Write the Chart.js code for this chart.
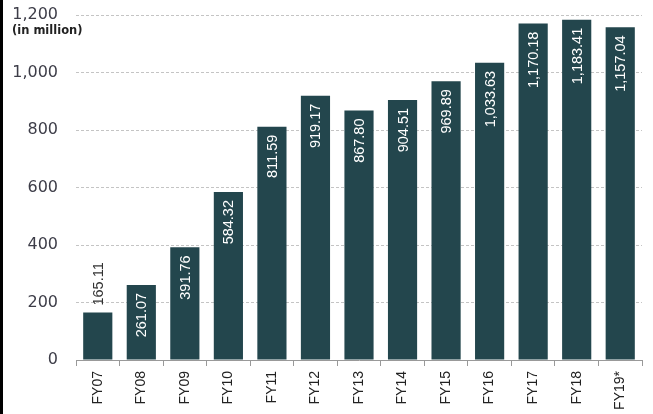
<!DOCTYPE html>
<html>
<head>
<meta charset="utf-8">
<script src="https://cdn.jsdelivr.net/npm/chart.js@4"></script>
<style>
html,body{margin:0;padding:0;background:#fff;}
#wrap{width:653px;height:414px;position:relative;}
</style>
</head>
<body>
<div id="wrap"><canvas id="c" width="653" height="414"></canvas></div>
<script>
const categories = ["FY07","FY08","FY09","FY10","FY11","FY12","FY13","FY14","FY15","FY16","FY17","FY18","FY19*"];
const revenue = [165.11,261.07,391.76,584.32,811.59,919.17,867.80,904.51,969.89,1033.63,1170.18,1183.41,1157.04];
const yTicks = [0,200,400,600,800,1000,1200];
const unitLabel = "(in million)";

const barColor = "#23464d";

const fmt2 = v => v.toLocaleString('en-US',{minimumFractionDigits:2,maximumFractionDigits:2});

const decor = {
  id:'decor',
  beforeDraw(chart){
    const ctx = chart.ctx;
    ctx.save();
    ctx.fillStyle = '#000';
    ctx.fillRect(0,0,3,chart.height);
    ctx.restore();
  },
  afterDatasetsDraw(chart){
    const ctx = chart.ctx;
    const meta = chart.getDatasetMeta(0);
    ctx.save();
    ctx.font = '14.5px "Liberation Sans", Arial, sans-serif';
    ctx.textBaseline = 'middle';
    meta.data.forEach((bar,i)=>{
      const v = revenue[i];
      const txt = fmt2(v);
      const w = ctx.measureText(txt).width;
      const h = bar.base - bar.y;
      ctx.save();
      if (h > w + 14) {
        ctx.translate(bar.x, bar.y + 8);
        ctx.rotate(-Math.PI/2);
        ctx.textAlign = 'right';
        ctx.fillStyle = '#ffffff';
      } else {
        ctx.translate(bar.x, bar.y - 7);
        ctx.rotate(-Math.PI/2);
        ctx.textAlign = 'left';
        ctx.fillStyle = '#333333';
      }
      ctx.fillText(txt, 0, 1);
      ctx.restore();
    });
    ctx.font = 'bold 11.5px "DejaVu Sans", sans-serif';
    ctx.fillStyle = '#222';
    ctx.textAlign = 'left';
    ctx.textBaseline = 'middle';
    ctx.fillText(unitLabel, 12, 31);
    ctx.restore();
  }
};

new Chart(document.getElementById('c'), {
  type:'bar',
  data:{
    labels: categories,
    datasets:[{
      data: revenue,
      backgroundColor: barColor,
      borderWidth:0,
      barPercentage:0.67,
      categoryPercentage:1.0
    }]
  },
  options:{
    responsive:false,
    animation:false,
    devicePixelRatio:1,
    layout:{padding:{top:15,right:11,bottom:0,left:0}},
    plugins:{legend:{display:false},tooltip:{enabled:false}},
    scales:{
      x:{
        offset:true,
        grid:{display:true,drawOnChartArea:false,drawTicks:true,tickLength:6,color:'#999999',offset:true},
        border:{display:true,color:'#999999',width:1},
        ticks:{
          maxRotation:90,minRotation:90,padding:5,
          color:'#222222',
          font:{family:'"Liberation Sans", Arial, sans-serif',size:14}
        },
        afterFit(s){ s.height = 54; s.paddingLeft = 0; s.paddingRight = 0; s.paddingTop = 0; s.paddingBottom = 0; }
      },
      y:{
        min:0,max:1200,
        afterBuildTicks(s){ s.ticks = yTicks.map(v=>({value:v})); },
        grid:{color:'#c4c4c4',drawTicks:false,lineWidth:1},
        border:{display:false,dash:[3,2]},
        ticks:{
          padding:18,
          color:'#3d3d48',
          font:{family:'"DejaVu Sans", sans-serif',size:16},
          callback:v=>v.toLocaleString('en-US')
        },
        afterFit(s){ s.width = 76; s.paddingTop = 0; s.paddingBottom = 0; s.paddingLeft = 0; s.paddingRight = 0; }
      }
    }
  },
  plugins:[decor]
});
</script>
</body>
</html>
